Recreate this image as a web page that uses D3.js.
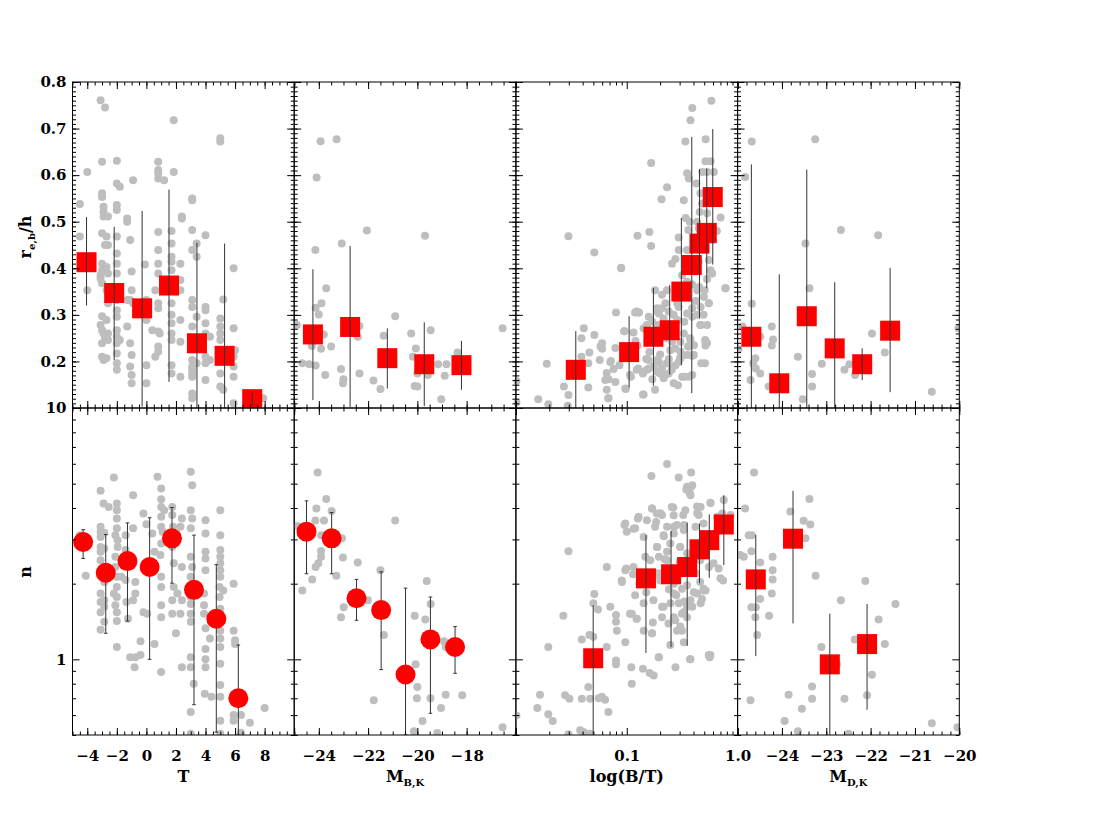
<!DOCTYPE html>
<html>
<head>
<meta charset="utf-8">
<script src="https://cdn.jsdelivr.net/npm/d3@7"></script>
<style>
  body { margin: 0; background: #fff; }
  text { font-family: "DejaVu Serif", serif; }
</style>
</head>
<body>
<div id="chart"></div>
<script>
// galaxies: [x, re/h] for the top row and [x, n] for the bottom row
var reT = [[-4.5,0.538],[-4.5,0.468],[-4.0,0.607],[-4.0,0.353],[-3.1,0.761],[-2.8,0.745],
  [-3.0,0.629],[-3.0,0.561],[-3.0,0.553],[-2.9,0.532],[-2.9,0.521],[-2.9,0.511],[-3.0,0.475],[-2.8,0.45],[-3.0,0.41],[-3.0,0.396],[-3.1,0.385],[-3.1,0.378],[-3.0,0.368],
  [-3.0,0.297],[-3.1,0.278],[-3.0,0.267],[-2.9,0.26],[-2.8,0.253],[-3.0,0.239],[-3.0,0.21],[-2.9,0.203],
  [-2.6,0.511],[-2.7,0.468],[-2.6,0.45],[-2.7,0.403],[-2.6,0.389],[-2.7,0.353],[-2.6,0.325],[-2.7,0.289],[-2.6,0.26],[-2.7,0.253],[-2.6,0.246],[-2.7,0.207],
  [-2.0,0.631],[-2.0,0.582],[-1.8,0.575],[-2.0,0.536],[-2.0,0.525],[-2.0,0.468],[-2.0,0.432],[-2.0,0.41],[-2.0,0.389],[-2.0,0.36],[-2.0,0.332],[-2.0,0.31],[-2.0,0.296],[-2.0,0.267],[-2.0,0.253],[-2.0,0.239],[-2.0,0.217],[-2.0,0.196],[-2.0,0.182],[-1.8,0.246],
  [-1.3,0.507],[-1.3,0.5],[-1.3,0.332],[-1.3,0.275],[-1.1,0.461],[-1.0,0.393],[-1.0,0.353],[-1.1,0.332],[-0.9,0.325],[-1.1,0.239],[-1.0,0.214],[-1.1,0.189],[-1.0,0.171],[-1.0,0.153],[-0.9,0.589],
  [-0.1,0.408],[0.0,0.332],[0.0,0.314],[0.0,0.289],[0.0,0.192],[0.0,0.153],[0.4,0.267],[0.6,0.353],[0.6,0.21],
  [0.8,0.629],[0.8,0.611],[0.8,0.604],[0.8,0.593],[0.8,0.478],[0.8,0.439],[0.8,0.41],[0.8,0.389],[0.8,0.325],[0.8,0.314],[0.8,0.264],[0.8,0.232],[0.8,0.221],[0.9,0.26],[1.2,0.589],
  [1.7,0.48],[1.7,0.453],[1.7,0.425],[1.7,0.414],[1.7,0.396],[1.7,0.36],[1.7,0.325],[1.7,0.3],[1.7,0.282],[1.7,0.26],[1.7,0.246],[1.7,0.192],[1.7,0.174],[1.85,0.718],[1.85,0.607],
  [2.3,0.41],[2.3,0.375],[2.3,0.353],[2.3,0.289],[2.3,0.242],[2.3,0.167],[2.4,0.511],[2.4,0.507],
  [3.1,0.55],[3.1,0.546],[3.1,0.482],[3.1,0.439],[3.1,0.332],[3.1,0.317],[3.1,0.275],[3.1,0.232],[3.1,0.203],[3.1,0.189],[3.1,0.182],[3.1,0.174],[3.1,0.167],[3.1,0.131],[3.1,0.121],
  [3.4,0.453],[3.4,0.425],[3.4,0.296],[3.4,0.196],
  [4.0,0.471],[4.0,0.317],[4.0,0.31],[4.0,0.282],[4.0,0.26],[4.0,0.21],[4.0,0.196],[4.0,0.16],[4.3,0.253],[4.3,0.203],
  [5.0,0.679],[5.0,0.672],[5.0,0.292],[5.0,0.275],[5.0,0.26],[5.0,0.246],[5.0,0.21],[5.0,0.203],[5.0,0.174],[5.0,0.146],[5.2,0.139],[5.2,0.333],
  [5.9,0.4],[5.9,0.271],[5.9,0.21],[5.9,0.189],[5.9,0.167],[5.9,0.11],[6.0,0.224],[7.2,0.121],[7.9,0.121]];

var nT = [[-4.5,3.12],[-4.1,2.15],[-3.1,4.69],[-2.9,4.17],[-2.55,4.04],
  [-3.1,3.37],[-3.1,3.22],[-3.1,3.07],[-3.1,2.8],[-3.1,2.68],[-3.1,2.48],[-3.1,2.19],[-3.1,1.83],[-3.1,1.69],[-3.1,1.54],[-3.1,1.31],
  [-2.85,3.19],[-2.85,2.76],[-2.85,2.33],[-2.85,2.03],[-2.85,1.72],[-2.85,1.62],[-2.85,1.41],
  [-2.2,5.29],[-2.0,4.17],[-2.0,3.92],[-2.0,3.63],[-2.0,3.32],[-2.1,3.12],[-1.95,2.98],[-1.95,2.8],[-2.1,2.56],[-2.1,2.33],[-2.0,2.13],[-2.0,1.94],[-2.2,1.83],[-2.0,1.77],[-2.1,1.64],[-2.0,1.54],[-2.0,1.42],[-2.0,1.12],
  [-1.7,2.13],[-1.4,3.12],[-1.4,2.72],[-1.4,2.07],[-1.35,1.69],[-1.25,1.45],
  [-0.9,4.5],[-0.9,3.32],[-0.75,2.03],[-0.75,1.83],[-0.9,1.72],[-1.1,1.02],[-0.75,1.02],[-0.4,1.04],[-0.4,1.18],[-0.8,0.93],
  [-0.2,3.8],[0.0,3.45],[0.4,3.17],[0.55,2.68],[-0.2,1.54],[0.05,1.52],[0.55,1.15],
  [0.75,5.33],[1.0,4.78],[1.0,4.33],[1.0,4.04],[1.2,3.92],[1.0,3.69],[1.0,3.37],[1.1,3.22],[1.0,2.89],[0.95,2.6],[1.0,2.13],[1.0,1.94],[1.0,1.64],[1.0,1.47],[1.0,0.89],
  [1.75,4.04],[1.75,3.75],[1.8,3.37],[1.75,2.8],[1.85,2.41],[1.85,1.94],[1.75,1.72],[1.75,1.52],[2.0,1.27],
  [2.1,1.83],[2.3,1.52],[2.4,1.72],[2.4,3.63],[2.3,3.37],[2.4,2.33],[2.4,0.93],
  [3.0,5.58],[3.1,4.93],[3.0,3.92],[3.1,3.63],[3.0,3.32],[3.0,2.56],[3.1,2.33],[3.0,2.13],[3.0,1.94],[3.0,1.77],[3.0,1.66],[3.0,1.52],[3.0,1.41],[3.0,1.02],[3.0,0.93],[3.2,0.8],[3.0,0.617],[3.0,0.506],
  [4.0,3.58],[4.0,3.17],[4.0,2.68],[4.0,2.52],[4.0,2.26],[3.9,1.83],[3.9,1.64],[3.9,1.52],[4.0,1.33],[4.0,1.1],[4.0,1.0],[4.0,0.93],[3.95,0.73],[4.3,1.21],[4.4,0.71],
  [5.0,3.92],[5.0,3.12],[5.0,2.72],[5.0,2.56],[5.0,2.41],[5.0,2.26],[5.0,2.13],[4.95,1.94],[4.95,1.77],[5.0,1.59],[5.0,1.47],[5.0,1.3],[5.0,1.21],[5.0,1.12],[5.0,0.96],[5.0,0.79],[5.0,0.71],[5.0,0.57],[5.0,0.506],
  [5.2,1.88],[5.9,2.0],[5.9,1.3],[6.0,1.19],[6.0,1.15],[5.9,0.6],[5.9,0.57],[6.4,0.6],[6.4,0.51],[7.0,0.56],[8.0,0.64]];

var reMB = [[-23.93,0.673],[-23.28,0.677],[-24.09,0.595],[-22.05,0.481],[-23.07,0.453],[-24.14,0.439],[-19.69,0.47],
  [-23.7,0.357],[-23.89,0.325],[-24.13,0.315],[-24.0,0.301],[-20.9,0.297],[-24.89,0.278],[-23.8,0.258],[-23.5,0.232],
  [-23.91,0.227],[-24.28,0.233],[-24.67,0.196],[-24.39,0.194],[-24.13,0.191],[-23.74,0.171],[-23.1,0.184],[-23.0,0.162],
  [-23.02,0.153],[-22.35,0.276],[-22.42,0.253],[-22.35,0.174],[-21.78,0.159],[-21.5,0.141],[-21.37,0.255],[-20.25,0.26],
  [-20.06,0.228],[-20.18,0.21],[-20.11,0.147],[-20.0,0.146],[-20.0,0.174],[-19.57,0.171],[-19.46,0.267],[-19.16,0.194],
  [-18.82,0.194],[-18.89,0.169],[-19.03,0.119],[-18.37,0.219],[-16.54,0.271],[-15.93,0.157],[-15.93,0.111],[-25.05,0.278]];

var nMB = [[-24.05,5.54],[-23.7,4.34],[-24.1,3.98],[-23.48,3.89],[-23.79,3.57],[-24.14,3.57],[-20.9,3.57],[-24.86,3.39],
  [-23.91,3.12],[-23.06,3.03],[-23.91,2.7],[-23.91,2.56],[-24.02,2.41],[-24.13,2.33],[-23.02,2.54],[-22.42,2.43],
  [-23.29,2.15],[-24.27,2.08],[-24.67,1.88],[-21.5,2.26],[-19.62,2.05],[-22.01,1.72],[-22.99,1.61],[-23.1,1.47],
  [-20.11,1.49],[-19.68,1.44],[-19.46,1.66],[-21.36,1.25],[-18.92,1.18],[-18.84,1.12],[-20.07,0.955],[-20.0,0.776],
  [-20.02,0.7],[-19.47,0.7],[-21.77,0.687],[-18.85,0.723],[-18.18,0.719],[-19.04,0.64],[-19.79,0.568],[-20.14,0.518],
  [-19.19,0.509],[-16.54,0.537],[-15.9,0.598],[-15.9,0.506]];

var reBT = [[0.58,0.76],[0.39,0.744],[0.376,0.718],[0.338,0.672],[0.515,0.677],[0.513,0.63],[0.57,0.63],[0.611,0.607],
  [0.531,0.607],[0.35,0.604],[0.363,0.593],[0.425,0.582],[0.48,0.607],[0.166,0.626],[0.231,0.574],[0.206,0.548],
  [0.327,0.546],[0.462,0.561],[0.479,0.539],[0.455,0.521],[0.531,0.518],[0.702,0.509],[0.34,0.508],[0.37,0.5],
  [0.432,0.5],[0.447,0.486],[0.36,0.482],[0.16,0.478],[0.125,0.47],[0.0298,0.469],[0.166,0.448],[0.294,0.466],
  [0.294,0.439],[0.35,0.439],[0.275,0.42],[0.256,0.41],[0.051,0.434],[0.089,0.4],[0.417,0.393],[0.447,0.414],
  [0.55,0.418],[0.59,0.389],[0.531,0.377],[0.505,0.353],[0.496,0.339],[0.55,0.325],[0.775,0.357],[0.35,0.371],
  [0.35,0.357],[0.389,0.365],[0.18,0.353],[0.208,0.343],[0.223,0.325],[0.208,0.314],[0.188,0.307],[0.294,0.317],
  [0.239,0.307],[0.265,0.3],[0.285,0.289],[0.389,0.314],[0.432,0.3],[0.462,0.278],[0.389,0.296],[0.123,0.307],
  [0.129,0.305],[0.08,0.305],[0.158,0.296],[0.17,0.285],[0.147,0.271],[0.188,0.278],[0.041,0.271],[0.039,0.25],
  [0.051,0.257],[0.06,0.239],[0.06,0.227],[0.046,0.219],[0.039,0.21],[0.039,0.192],[0.045,0.196],[0.057,0.203],
  [0.095,0.265],[0.12,0.244],[0.125,0.234],[0.079,0.229],[0.072,0.201],[0.086,0.192],[0.019,0.195],[0.0271,0.146],
  [0.0298,0.128],[0.0159,0.119],[0.0196,0.108],[0.0294,0.105],[0.0101,0.158],[0.0101,0.112],[0.045,0.144],
  [0.064,0.16],[0.0685,0.162],[0.066,0.175],[0.076,0.184],[0.0685,0.121],[0.098,0.141],
  [0.109,0.167],[0.127,0.185],[0.14,0.174],[0.158,0.185],[0.175,0.189],[0.188,0.178],[0.17,0.162],[0.195,0.199],
  [0.208,0.185],[0.223,0.171],[0.239,0.174],[0.256,0.189],[0.275,0.192],[0.265,0.153],[0.305,0.207],[0.305,0.221],
  [0.294,0.199],[0.275,0.228],[0.256,0.242],[0.305,0.242],[0.327,0.26],[0.376,0.246],[0.358,0.232],[0.35,0.214],
  [0.389,0.214],[0.403,0.235],[0.316,0.167],[0.363,0.167],[0.142,0.129],[0.33,0.167],[0.39,0.212],[0.507,0.196],
  [0.513,0.242],[0.513,0.234],[0.462,0.278],[0.55,0.325],[0.19,0.24],[0.21,0.262],[0.16,0.22],[0.23,0.25],[0.27,0.265],
  [0.2,0.215],[0.24,0.205],[0.15,0.205],[0.33,0.285],[0.42,0.33],[0.45,0.36],[0.5,0.44],[0.6,0.46],[0.65,0.48],
  [0.089,0.401],[0.119,0.305],[0.127,0.305],[0.095,0.265],[0.115,0.262],[0.142,0.271],[0.152,0.278],[0.188,0.314],
  [0.195,0.303],[0.215,0.292],[0.23,0.353],[0.284,0.346],[0.315,0.385],[0.285,0.325],[0.432,0.353],[0.464,0.317],
  [0.493,0.3],[0.53,0.278],[0.464,0.278],[0.35,0.303],[0.372,0.25],[0.36,0.232],[0.402,0.214],[0.57,0.396],
  [0.585,0.389],[0.78,0.357],[0.247,0.224],[0.303,0.207],[0.255,0.182],[0.29,0.149],[0.174,0.189],[0.2,0.174],
  [0.215,0.164],[0.152,0.182],[0.157,0.203],[0.188,0.203],[0.23,0.196],[0.123,0.182],[0.142,0.178],[0.107,0.171],
  [0.079,0.156],[0.066,0.139],[0.071,0.199],[0.058,0.232],[0.14,0.129],[0.068,0.121],[0.097,0.142],[0.18,0.139],
  [0.51,0.246],[0.53,0.239],[0.47,0.196],[0.39,0.171]];

var nBT = [[0.231,5.98],[0.167,5.36],[0.294,5.29],[0.381,5.54],[0.345,4.74],[0.376,4.5],[0.381,4.86],
  [0.169,3.98],[0.187,3.8],[0.208,3.75],[0.263,4.02],[0.323,3.75],[0.328,3.42],[0.266,3.37],[0.231,3.37],[0.184,3.52],
  [0.126,3.63],[0.0954,3.42],[0.1,3.22],[0.119,3.32],[0.43,4.06],[0.446,3.75],[0.568,4.2],[0.728,3.8],[0.865,3.75],
  [0.216,3.09],[0.266,3.17],[0.187,2.8],[0.231,2.68],[0.304,2.8],[0.35,2.64],[0.404,2.56],[0.46,2.48],[0.607,2.41],
  [0.675,2.3],[0.74,2.06],[0.0661,2.33],[0.099,2.3],[0.0905,2.03],[0.114,2.18],[0.177,2.16],[0.201,2.06],[0.231,2.13],
  [0.266,2.0],[0.304,2.19],[0.315,1.91],[0.35,1.97],[0.403,1.85],[0.46,2.03],[0.514,1.88],[0.477,1.74],[0.55,2.33],
  [0.051,1.82],[0.055,1.58],[0.071,1.62],[0.08,1.5],[0.08,1.41],[0.0815,1.3],[0.066,1.12],[0.0268,1.49],[0.0393,1.2],
  [0.0461,1.25],[0.0196,1.12],[0.05,1.67],[0.0298,2.69],[0.107,1.52],[0.123,1.45],[0.142,1.3],[0.169,1.27],[0.172,1.4],
  [0.194,1.02],[0.208,1.62],[0.248,1.67],[0.266,1.47],[0.284,1.3],[0.315,1.52],[0.35,1.62],[0.376,1.72],[0.304,1.35],
  [0.275,0.93],[0.376,1.0],[0.568,1.04],[0.56,1.02],[0.08,0.99],[0.08,0.955],[0.11,0.93],[0.14,0.918],[0.161,0.882],
  [0.175,0.863],[0.111,0.8],[0.05,1.23],[0.045,0.776],[0.0393,0.697],[0.0468,0.697],[0.0557,0.7],[0.0638,0.69],
  [0.0683,0.617],[0.0596,0.71],[0.0165,0.723],[0.0156,0.641],[0.0196,0.604],[0.0215,0.568],[0.0278,0.719],[0.0304,0.697],
  [0.0298,0.503],[0.038,0.522],[0.0407,0.514],[0.0465,0.506],[0.0101,0.598],[0.22,2.5],[0.25,2.3],[0.3,2.45],[0.19,2.2],
  [0.28,1.8],[0.33,1.7],[0.24,1.9],[0.36,2.2],[0.42,2.2],[0.15,1.85],[0.13,2.0],
  [0.35,4.86],[0.39,4.93],[0.372,4.57],[0.169,3.98],[0.201,3.81],[0.255,4.04],[0.265,3.74],[0.338,3.92],[0.432,3.81],
  [0.464,4.04],[0.57,4.19],[0.655,3.69],[0.75,4.3],[0.097,3.47],[0.115,3.31],[0.128,3.69],[0.152,3.58],[0.18,3.37],
  [0.215,3.12],[0.284,3.42],[0.327,3.27],[0.417,3.37],[0.493,3.47],[0.142,3.07],[0.188,2.8],[0.247,2.89],[0.303,2.8],
  [0.163,2.48],[0.195,2.56],[0.147,2.56],[0.097,2.26],[0.115,2.33],[0.09,2.06],[0.208,2.19],[0.231,2.48],[0.315,2.33],
  [0.493,1.88],[0.7,2.1],[0.73,3.27],[0.119,1.8],[0.142,1.67],[0.174,1.72],[0.215,1.62],[0.265,1.83],[0.294,1.67],
  [0.327,1.54],[0.39,1.62],[0.464,1.67],[0.432,1.83],[0.493,1.91],[0.111,1.52],[0.123,1.45],[0.208,1.47],[0.238,1.39],
  [0.274,1.43],[0.35,1.47],[0.169,1.27],[0.315,1.3],[0.327,1.17],[0.247,1.14],[0.372,1.0],[0.549,1.04],[0.097,1.17],
  [0.195,1.02]];

var reMD = [[-24.68,0.672],[-23.25,0.677],[-24.83,0.596],[-22.67,0.482],[-21.83,0.471],[-23.47,0.453],[-23.38,0.357],
  [-24.68,0.324],[-24.89,0.275],[-24.23,0.275],[-24.49,0.253],[-24.2,0.247],[-24.23,0.234],[-24.98,0.226],[-24.6,0.207],
  [-24.65,0.196],[-24.59,0.185],[-24.49,0.174],[-24.71,0.16],[-24.3,0.146],[-23.64,0.21],[-23.32,0.173],[-23.32,0.146],
  [-23.53,0.119],[-23.1,0.195],[-22.59,0.182],[-22.48,0.194],[-22.35,0.171],[-21.97,0.26],[-21.68,0.219],[-20.62,0.135],
  [-20.02,0.271]];

var nMD = [[-24.63,5.54],[-23.38,4.34],[-23.81,3.87],[-24.83,3.98],[-23.51,3.56],[-23.36,3.44],[-24.75,3.12],[-24.68,3.12],
  [-23.47,3.03],[-24.69,2.69],[-24.21,2.56],[-24.49,2.43],[-24.21,2.26],[-24.21,2.08],[-24.23,1.83],[-24.49,1.74],
  [-24.59,1.61],[-24.6,1.47],[-24.56,1.25],[-24.69,1.61],[-24.29,1.49],[-24.94,2.6],[-24.86,2.56],[-23.24,2.15],
  [-22.12,2.05],[-22.67,1.72],[-21.82,1.44],[-21.44,1.66],[-21.68,1.15],[-22.36,1.2],[-23.11,1.12],[-22.76,0.955],
  [-21.97,0.869],[-24.71,0.687],[-23.85,0.723],[-23.32,0.78],[-23.32,0.697],[-23.55,0.636],[-22.59,0.697],[-22.08,0.719],
  [-23.94,0.568],[-23.64,0.517],[-22.5,0.506],[-20.62,0.557],[-20.04,0.537]];

// binned medians: [x, y, low, high]
var binReT = [[-4.05,0.413,0.32,0.51],[-2.18,0.347,0.203,0.489],[-0.29,0.314,0.103,0.523],[1.53,0.363,0.156,0.569],
  [3.42,0.239,0.1,0.455],[5.29,0.212,0.1,0.453],[7.16,0.119,0.105,0.135]];
var binNT = [[-4.28,2.93,2.52,3.28],[-2.75,2.21,1.27,3.14],[-1.28,2.46,1.42,3.49],[0.22,2.33,1.0,3.66],
  [1.73,3.03,2.01,4.02],[3.22,1.89,0.66,3.12],[4.73,1.45,0.513,2.38],[6.22,0.70,0.5,1.14]];
var binReMB = [[-24.24,0.258,0.117,0.398],[-22.73,0.274,0.102,0.448],[-21.22,0.207,0.142,0.271],
  [-19.72,0.194,0.104,0.284],[-18.21,0.192,0.139,0.244]];
var binNMB = [[-24.5,3.22,2.19,4.27],[-23.48,3.03,2.19,3.84],[-22.47,1.75,1.43,2.08],[-21.47,1.57,0.91,2.23],
  [-20.48,0.87,0.5,1.92],[-19.47,1.2,0.61,1.77],[-18.47,1.12,0.88,1.35]];
var binReBT = [[0.0347,0.182,0.1,0.265],[0.105,0.22,0.144,0.297],[0.174,0.253,0.148,0.358],[0.244,0.267,0.172,0.364],
  [0.311,0.35,0.192,0.508],[0.386,0.407,0.132,0.682],[0.453,0.453,0.292,0.613],[0.527,0.476,0.357,0.614],[0.597,0.553,0.408,0.699]];
var binNBT = [[0.0498,1.01,0.5,1.64],[0.149,2.1,1.06,3.12],[0.251,2.18,1.12,3.24],[0.351,2.33,1.13,3.5],
  [0.453,2.74,2.01,3.47],[0.555,2.98,2.11,3.77],[0.751,3.44,2.37,4.5]];
var binReMD = [[-24.69,0.253,0.1,0.623],[-24.06,0.153,0.1,0.387],[-23.44,0.297,0.1,0.612],[-22.81,0.228,0.1,0.37],
  [-22.19,0.194,0.16,0.228],[-21.56,0.266,0.134,0.401]];
var binNMD = [[-24.59,2.08,1.03,3.13],[-23.75,3.02,1.39,4.68],[-22.92,0.955,0.5,1.52],[-22.08,1.15,0.63,1.66]];

// tick labels
var xLabelsT = [-4, -2, 0, 2, 4, 6, 8];
var xLabelsMB = [-24, -22, -20, -18];
var xLabelsBT = [0.1, 1];
var xLabelsMD = [-24, -23, -22, -21, -20];
var yLabelsRe = [0.2, 0.3, 0.4, 0.5, 0.6, 0.7, 0.8];
var yLabelsN = [1, 10];

var svgWidth = 1109, svgHeight = 817;
var plotLeft = 72.5, plotRight = 959.3, plotTop = 82, plotMid = 408, plotBottom = 735;
var pw = (plotRight - plotLeft) / 4;
var majorLen = 7, minorLen = 3.5;

var svg = d3.select("#chart").append("svg")
  .attr("width", svgWidth)
  .attr("height", svgHeight);

function logMinor(lo, hi) {
  var out = [];
  for (var d = lo; d < hi * 0.999; d *= 10) {
    for (var k = 2; k <= 9; k++) out.push(d * k);
  }
  return out;
}

// x-axis definition for each column
var cols = [
  { scale: d3.scaleLinear().domain([-5, 10]), major: d3.range(-4, 10.01, 2), minor: d3.range(-5, 10.01, 0.5),
    labels: xLabelsT, fmt: d3.format("d"), title: ["T", ""] },
  { scale: d3.scaleLinear().domain([-25, -16]), major: d3.range(-24, -15.99, 2), minor: d3.range(-25, -15.99, 0.5),
    labels: xLabelsMB, fmt: d3.format("d"), title: ["M", "B,K"] },
  { scale: d3.scaleLog().domain([0.01, 1]), major: [0.01, 0.1, 1], minor: logMinor(0.01, 1),
    labels: xLabelsBT, fmt: d3.format(".1f"), title: ["log(B/T)", ""] },
  { scale: d3.scaleLinear().domain([-25, -20]), major: d3.range(-25, -19.99, 1), minor: d3.range(-25, -19.99, 0.2),
    labels: xLabelsMD, fmt: d3.format("d"), title: ["M", "D,K"] }
];
cols.forEach(function (c, i) {
  c.scale.range([plotLeft + i * pw, plotLeft + (i + 1) * pw]);
});

var rows = [
  { scale: d3.scaleLinear().domain([0.1, 0.8]).range([plotMid, plotTop]), major: d3.range(0.1, 0.801, 0.1),
    minor: d3.range(0.1, 0.8001, 0.01), labels: yLabelsRe, fmt: d3.format(".1f"), y0: plotTop, y1: plotMid },
  { scale: d3.scaleLog().domain([0.5, 10]).range([plotBottom, plotMid]), major: [1, 10],
    minor: [0.5, 0.6, 0.7, 0.8, 0.9].concat(logMinor(1, 10)), labels: yLabelsN, fmt: d3.format("d"), y0: plotMid, y1: plotBottom }
];

var panels = [
  [reT, binReT, "square"], [reMB, binReMB, "square"], [reBT, binReBT, "square"], [reMD, binReMD, "square"],
  [nT, binNT, "circle"], [nMB, binNMB, "circle"], [nBT, binNBT, "square"], [nMD, binNMD, "square"]
];

function isLabel(list, v) {
  return list.some(function (l) { return Math.abs(l - v) < 1e-6; });
}

panels.forEach(function (p, k) {
  var r = Math.floor(k / 4), c = k % 4;
  var xs = cols[c].scale, ys = rows[r].scale;
  var x0 = xs.range()[0], x1 = xs.range()[1];
  var y0 = rows[r].y0, y1 = rows[r].y1;

  var clipId = "clip" + k;
  svg.append("clipPath").attr("id", clipId)
    .append("rect").attr("x", x0).attr("y", y0).attr("width", x1 - x0).attr("height", y1 - y0);

  var g = svg.append("g").attr("clip-path", "url(#" + clipId + ")");

  // grey galaxies
  g.selectAll("circle.gal")
    .data(p[0])
    .enter()
    .append("circle")
    .attr("class", "gal")
    .attr("cx", d => xs(d[0]))
    .attr("cy", d => ys(d[1]))
    .attr("r", 4)
    .attr("fill", "#bebebe");

  var bars = function () {
    g.selectAll("line.err")
      .data(p[1])
      .enter()
      .append("line")
      .attr("class", "err")
      .attr("x1", d => xs(d[0])).attr("x2", d => xs(d[0]))
      .attr("y1", d => ys(d[2])).attr("y2", d => ys(d[3]))
      .attr("stroke", "#333")
      .attr("stroke-width", 1);
  };

  if (p[2] === "circle") {
    bars();
    // little caps on the error bars
    [2, 3].forEach(function (j) {
      g.selectAll("line.cap" + j)
        .data(p[1])
        .enter()
        .append("line")
        .attr("x1", d => xs(d[0]) - 1.8).attr("x2", d => xs(d[0]) + 1.8)
        .attr("y1", d => ys(d[j])).attr("y2", d => ys(d[j]))
        .attr("stroke", "#333");
    });
    g.selectAll("circle.bin")
      .data(p[1])
      .enter()
      .append("circle")
      .attr("class", "bin")
      .attr("cx", d => xs(d[0]))
      .attr("cy", d => ys(d[1]))
      .attr("r", 10)
      .attr("fill", "#ff0000");
  } else {
    g.selectAll("rect.bin")
      .data(p[1])
      .enter()
      .append("rect")
      .attr("class", "bin")
      .attr("x", d => xs(d[0]) - 10)
      .attr("y", d => ys(d[1]) - 10)
      .attr("width", 20)
      .attr("height", 20)
      .attr("fill", "#ff0000");
    bars();
  }

  // frame
  svg.append("rect")
    .attr("x", x0).attr("y", y0).attr("width", x1 - x0).attr("height", y1 - y0)
    .attr("fill", "none").attr("stroke", "#000").attr("stroke-width", 1);

  // ticks on all four sides, pointing inwards
  var showX = r === 1, showY = c === 0;
  var xFmt = d => (showX && isLabel(cols[c].labels, d)) ? cols[c].fmt(d) : "";
  var yFmt = d => (showY && isLabel(rows[r].labels, d)) ? rows[r].fmt(d) : "";

  var axes = [
    [d3.axisBottom(xs), "translate(0," + y1 + ")", cols[c], xFmt, 15],
    [d3.axisTop(xs), "translate(0," + y0 + ")", cols[c], () => "", 3],
    [d3.axisLeft(ys), "translate(" + x0 + ",0)", rows[r], yFmt, 6],
    [d3.axisRight(ys), "translate(" + x1 + ",0)", rows[r], () => "", 3]
  ];
  axes.forEach(function (a) {
    var major = a[0].tickValues(a[2].major).tickSize(-majorLen).tickSizeOuter(0)
      .tickPadding(a[4]).tickFormat(a[3]);
    var ga = svg.append("g").attr("transform", a[1]).call(major);
    ga.select(".domain").remove();
    ga.attr("font-family", "DejaVu Serif").attr("font-size", 15).attr("font-weight", "bold");
    ga.selectAll("text").attr("fill", "#000");

    var minorAxis = a[0].tickValues(a[2].minor).tickSize(-minorLen).tickFormat("");
    var gm = svg.append("g").attr("transform", a[1]).call(minorAxis);
    gm.select(".domain").remove();
  });
});

// axis titles
cols.forEach(function (c, i) {
  var t = svg.append("text")
    .attr("x", plotLeft + (i + 0.5) * pw)
    .attr("y", 782)
    .attr("text-anchor", "middle")
    .attr("font-size", 16)
    .attr("font-weight", "bold")
    .text(c.title[0]);
  if (c.title[1]) {
    t.append("tspan").attr("font-size", 10).attr("dy", 4).text(c.title[1]);
  }
});

var yt = svg.append("text")
  .attr("transform", "translate(31," + 237 + ") rotate(-90)")
  .attr("text-anchor", "middle")
  .attr("font-size", 16)
  .attr("font-weight", "bold")
  .text("r");
yt.append("tspan").attr("font-size", 10).attr("dy", 4).text("e,b");
yt.append("tspan").attr("dy", -4).text("/h");

svg.append("text")
  .attr("transform", "translate(31," + 572 + ") rotate(-90)")
  .attr("text-anchor", "middle")
  .attr("font-size", 16)
  .attr("font-weight", "bold")
  .text("n");
</script>
</body>
</html>
